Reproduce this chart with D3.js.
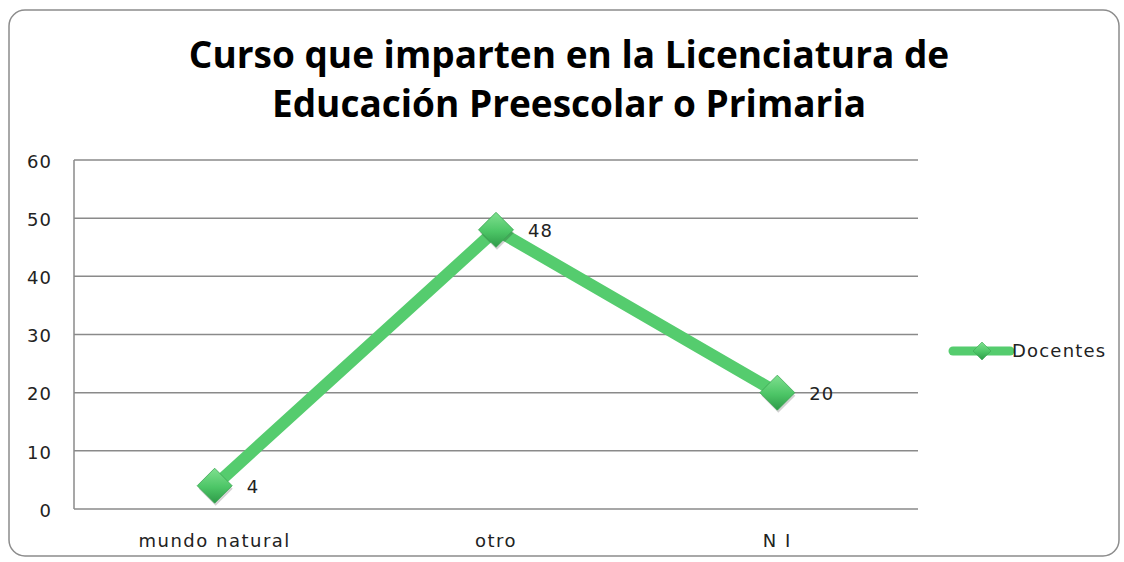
<!DOCTYPE html>
<html>
<head>
<meta charset="utf-8">
<script src="https://cdn.jsdelivr.net/npm/d3@7"></script>
<style>
  body { margin: 0; background: #fff; }
  svg { display: block; }
</style>
</head>
<body>
<script>
// Data
var categories = ["mundo natural", "otro", "N I"];
var values = [4, 48, 20];
var seriesName = "Docentes";
var yTicks = [0, 10, 20, 30, 40, 50, 60];
var titleLines = ["Curso que imparten en la Licenciatura de", "Educación Preescolar o Primaria"];

var W = 1124, H = 562;
var margin = {top: 160, left: 74, right: 206, bottom: 53};
var width = W - margin.left - margin.right;
var height = H - margin.top - margin.bottom;

var labelFont = "'DejaVu Sans', Verdana, sans-serif";

var svg = d3.select("body").append("svg")
    .attr("width", W)
    .attr("height", H);

// gradient for markers
var defs = svg.append("defs");
var grad = defs.append("linearGradient")
    .attr("id", "mk").attr("x1", "0").attr("y1", "0").attr("x2", "0").attr("y2", "1");
grad.append("stop").attr("offset", "0%").attr("stop-color", "#7fe08f");
grad.append("stop").attr("offset", "55%").attr("stop-color", "#4cc566");
grad.append("stop").attr("offset", "100%").attr("stop-color", "#2e9a48");

// Outer frame
svg.append("rect")
    .attr("x", 9).attr("y", 10)
    .attr("width", 1110).attr("height", 546)
    .attr("rx", 16)
    .attr("fill", "#fff")
    .attr("stroke", "#8c8c8c")
    .attr("stroke-width", 1.5);

// Title
svg.append("g").selectAll("text")
    .data(titleLines)
    .enter().append("text")
    .attr("x", 569)
    .attr("y", function(d, i) { return 68 + i * 49; })
    .attr("text-anchor", "middle")
    .style("font-family", "'Open Sans', sans-serif")
    .style("font-weight", "bold")
    .style("font-size", "37px")
    .style("fill", "#000")
    .text(function(d) { return d; });

var g = svg.append("g")
    .attr("transform", "translate(" + margin.left + "," + margin.top + ")");

var x = d3.scaleBand()
    .domain(categories)
    .range([0, width]);

var y = d3.scaleLinear()
    .domain([0, 60])
    .range([height, 0]);

// Gridlines
g.selectAll(".grid")
    .data(yTicks)
    .enter().append("line")
    .attr("class", "grid")
    .attr("x1", 0).attr("x2", width)
    .attr("y1", function(d) { return y(d); })
    .attr("y2", function(d) { return y(d); })
    .attr("stroke", "#8a8a8a")
    .attr("stroke-width", 1.5);

// Left axis line
g.append("line")
    .attr("x1", 0).attr("x2", 0)
    .attr("y1", 0).attr("y2", height)
    .attr("stroke", "#8a8a8a")
    .attr("stroke-width", 1.5);

// Y axis
var yAxis = d3.axisLeft(y).tickValues(yTicks).tickSize(0).tickPadding(22);
g.append("g")
    .call(yAxis)
    .call(function(s) { s.select(".domain").remove(); })
    .selectAll("text")
    .attr("dy", "0.4em")
    .style("font-family", labelFont)
    .style("font-size", "18px")
    .style("letter-spacing", "1px")
    .style("fill", "#222");

// X axis
var xAxis = d3.axisBottom(x).tickSize(0).tickPadding(25);
g.append("g")
    .attr("transform", "translate(0," + height + ")")
    .call(xAxis)
    .call(function(s) { s.select(".domain").remove(); })
    .selectAll("text")
    .style("font-family", labelFont)
    .style("font-size", "18px")
    .style("letter-spacing", "1.5px")
    .style("fill", "#222");

var px = function(d, i) { return x(categories[i]) + x.bandwidth() / 2; };
var py = function(d) { return y(d); };

// Line
var line = d3.line().x(px).y(py);
g.append("path")
    .datum(values)
    .attr("d", line)
    .attr("fill", "none")
    .attr("stroke", "#55cc6e")
    .attr("stroke-width", 12)
    .attr("stroke-linejoin", "round");

// Markers
var diamond = function(cx, cy, r) {
  return "M" + cx + "," + (cy - r) + "L" + (cx + r) + "," + cy +
         "L" + cx + "," + (cy + r) + "L" + (cx - r) + "," + cy + "Z";
};
g.selectAll(".mk-shadow")
    .data(values)
    .enter().append("path")
    .attr("d", function(d, i) { return diamond(px(d, i) + 1, py(d) + 3, 17); })
    .attr("fill", "rgba(0,0,0,0.18)");
g.selectAll(".mk")
    .data(values)
    .enter().append("path")
    .attr("d", function(d, i) { return diamond(px(d, i), py(d), 17.5); })
    .attr("fill", "url(#mk)")
    .attr("stroke", "#3aa652")
    .attr("stroke-width", 0.8);

// Data labels
g.selectAll(".lbl")
    .data(values)
    .enter().append("text")
    .attr("x", function(d, i) { return px(d, i) + 32; })
    .attr("y", function(d) { return py(d) + 7; })
    .style("font-family", labelFont)
    .style("font-size", "18px")
    .style("letter-spacing", "1px")
    .style("fill", "#222")
    .text(function(d) { return d; });

// Legend
var legend = svg.append("g").attr("transform", "translate(953,351)");
legend.append("line")
    .attr("x1", 0).attr("x2", 57)
    .attr("y1", 0).attr("y2", 0)
    .attr("stroke", "#55cc6e")
    .attr("stroke-width", 9)
    .attr("stroke-linecap", "round");
legend.append("path")
    .attr("d", diamond(29, 0, 9))
    .attr("fill", "url(#mk)")
    .attr("stroke", "#3aa652")
    .attr("stroke-width", 0.6);
legend.append("text")
    .attr("x", 59)
    .attr("y", 6)
    .style("font-family", labelFont)
    .style("font-size", "18px")
    .style("letter-spacing", "1.2px")
    .style("fill", "#222")
    .text(seriesName);
</script>
</body>
</html>
